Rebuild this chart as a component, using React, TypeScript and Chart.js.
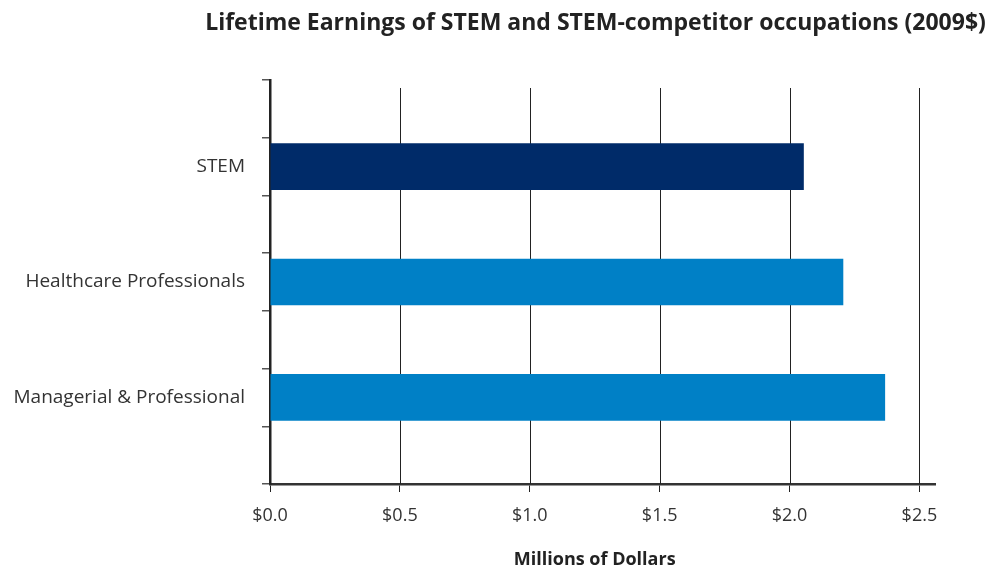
import React, { useEffect, useRef } from "react";
import { Chart, registerables } from "chart.js";

Chart.register(...registerables);

const categories = ["", "STEM", "", "Healthcare Professionals", "", "Managerial & Professional", ""];
const earnings = [null, 2.055, null, 2.207, null, 2.368, null];
const barColors = ["#002b69", "#002b69", "#0080c6", "#0080c6", "#0080c6", "#0080c6", "#0080c6"];
const xTickValues = [0, 0.5, 1.0, 1.5, 2.0, 2.5];
const titleText = "Lifetime Earnings of STEM and STEM-competitor occupations (2009$)";
const xTitleText = "Millions of Dollars";

const FONT = "'Open Sans', 'DejaVu Sans', sans-serif";

const titlePlugin = {
  id: "centeredTitle",
  beforeDatasetsDraw(chart: any) {
    const { ctx, chartArea, scales } = chart;
    const xs = scales.x;
    ctx.save();
    ctx.strokeStyle = "#222222";
    ctx.lineWidth = 1;
    for (const v of xTickValues) {
      if (v === 0) continue;
      const px = Math.round(xs.getPixelForValue(v)) + 0.5;
      ctx.beginPath();
      ctx.moveTo(px, chartArea.top + 8);
      ctx.lineTo(px, chartArea.bottom);
      ctx.stroke();
    }
    ctx.restore();
  },
  afterDraw(chart: any) {
    const { ctx, chartArea, scales } = chart;
    const xs = scales.x;
    const plotCenter = (xs.getPixelForValue(0) + xs.getPixelForValue(2.5)) / 2;
    ctx.save();
    ctx.font = `bold 23px ${FONT}`;
    ctx.fillStyle = "#222222";
    ctx.textAlign = "center";
    ctx.textBaseline = "middle";
    ctx.fillText(titleText, (chartArea.left + chartArea.right) / 2 - 7, 23);
    ctx.font = `bold 18px ${FONT}`;
    ctx.fillText(xTitleText, plotCenter, 560);
    ctx.restore();
  },
};

export default function App() {
  const canvasRef = useRef<HTMLCanvasElement | null>(null);

  useEffect(() => {
    if (!canvasRef.current) return;
    const chart = new Chart(canvasRef.current, {
      type: "bar",
      data: {
        labels: categories,
        datasets: [
          {
            data: earnings as any,
            backgroundColor: barColors,
            borderWidth: 0,
            barPercentage: 0.81,
            categoryPercentage: 1,
          },
        ],
      },
      options: {
        indexAxis: "y",
        animation: false,
        responsive: true,
        maintainAspectRatio: false,
        layout: { padding: { top: 80, right: 54, left: 0, bottom: 0 } },
        plugins: {
          legend: { display: false },
          title: { display: false },
          tooltip: { enabled: false },
        },
        scales: {
          x: {
            type: "linear",
            min: 0,
            max: 2.56,
            afterFit(scale: any) {
              scale.height = 88;
            },
            afterBuildTicks(scale: any) {
              scale.ticks = xTickValues.map((v) => ({ value: v }));
            },
            ticks: {
              includeBounds: false,
              padding: 13,
              color: "#333333",
              font: { family: FONT, size: 18 },
              callback: (v: any) => "$" + Number(v).toFixed(1),
            },
            grid: {
              color: "#222222",
              lineWidth: 1,
              tickLength: 8,
              drawTicks: true,
              drawOnChartArea: false,
            },
            border: { display: true, color: "#333333", width: 2.5 },
            title: { display: false },
          },
          y: {
            type: "category",
            offset: true,
            afterFit(scale: any) {
              scale.width = 270;
            },
            ticks: {
              padding: 17,
              color: "#333333",
              font: { family: FONT, size: 19 },
              autoSkip: false,
            },
            grid: {
              offset: true,
              drawOnChartArea: false,
              drawTicks: true,
              tickLength: 8,
              color: "#555555",
              lineWidth: 1.5,
            },
            border: { display: true, color: "#222222", width: 2.5 },
          },
        },
      },
      plugins: [titlePlugin],
    });
    return () => chart.destroy();
  }, []);

  return (
    <div style={{ position: "fixed", left: 0, top: 0, width: 989, height: 572, background: "#ffffff" }}>
      <canvas ref={canvasRef} />
    </div>
  );
}
